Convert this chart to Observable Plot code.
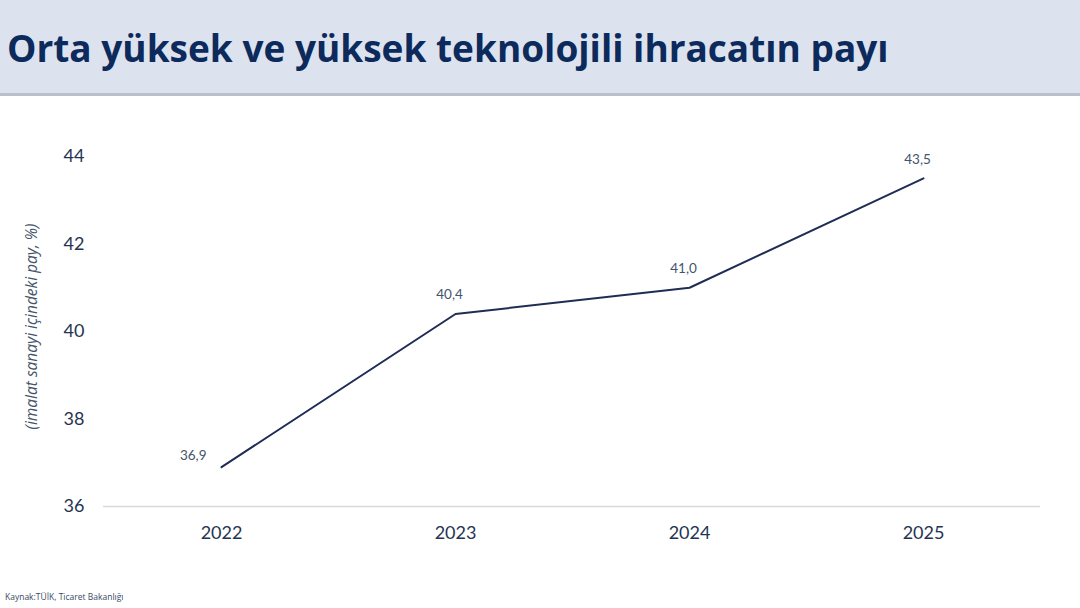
<!DOCTYPE html>
<html>
<head>
<meta charset="utf-8">
<script src="https://cdn.jsdelivr.net/npm/d3@7"></script>
<script src="https://cdn.jsdelivr.net/npm/@observablehq/plot@0.6"></script>
<style>
  html, body { margin: 0; padding: 0; background: #fff; width: 1080px; height: 608px; overflow: hidden; }
  #title {
    height: 93px; background: #dce3ef; border-bottom: 3px solid #b9c0cb;
    box-sizing: content-box; position: relative;
  }
  #title h1 {
    margin: 0; position: absolute; left: 7px; top: 22px; white-space: nowrap;
    font-family: "Open Sans", Lato, sans-serif; font-weight: 700; font-size: 37px;
    color: #0c2a5b; letter-spacing: 0px;
  }
  #chart { height: 490px; }
  #caption {
    font-family: "Open Sans", sans-serif; font-size: 8.5px; color: #3a4a66;
    position: absolute; left: 5px; top: 591px;
  }
</style>
</head>
<body>
<div id="title"><h1>Orta yüksek ve yüksek teknolojili ihracatın payı</h1></div>
<div id="chart"></div>
<div id="caption">Kaynak:TÜİK, Ticaret Bakanlığı</div>
<script>
const years = ["2022", "2023", "2024", "2025"];
const values = [36.9, 40.4, 41.0, 43.5];
const yTicks = [36, 38, 40, 42, 44];
const yLabel = "(imalat sanayi içindeki pay, %)";

const data = years.map((year, i) => ({year, value: values[i]}));
const fmt = v => v.toFixed(1).replace(".", ",");

const chart = Plot.plot({
  width: 1080,
  height: 490,
  marginLeft: 103,
  marginRight: 40,
  marginTop: 60,
  marginBottom: 80,
  style: {fontFamily: "Lato, 'Open Sans', sans-serif", background: "transparent", overflow: "visible"},
  x: {type: "point", domain: years, padding: 0.5, label: null, tickSize: 0, tickPadding: 20},
  y: {domain: [36, 44], ticks: yTicks, label: null, tickSize: 0, tickPadding: 19},
  marks: [
    Plot.ruleY([36], {stroke: "#d9d9d9", strokeWidth: 1.5}),
    Plot.axisX({tickSize: 0, tickPadding: 20, fontSize: 18, fill: "#253452", label: null}),
    Plot.axisY({ticks: yTicks, tickSize: 0, tickPadding: 19, fontSize: 18, fill: "#253452", label: null}),
    Plot.line(data, {x: "year", y: "value", stroke: "#1f2d55", strokeWidth: 2}),
    Plot.text(data.slice(0, 1), {x: "year", y: "value", text: d => fmt(d.value), textAnchor: "end", dx: -15, dy: -11, fontSize: 13.5, fill: "#44546a"}),
    Plot.text(data.slice(1), {x: "year", y: "value", text: d => fmt(d.value), dx: -6, dy: -19, fontSize: 13.5, fill: "#44546a"}),
    Plot.text([yLabel], {frameAnchor: "left", textAnchor: "middle", text: d => d, rotate: -90, dx: -71, dy: -5, fontSize: 15.5, fontFamily: "'Open Sans', sans-serif", fontStyle: "italic", fill: "#44546a"})
  ]
});
document.getElementById("chart").appendChild(chart);
</script>
</body>
</html>
